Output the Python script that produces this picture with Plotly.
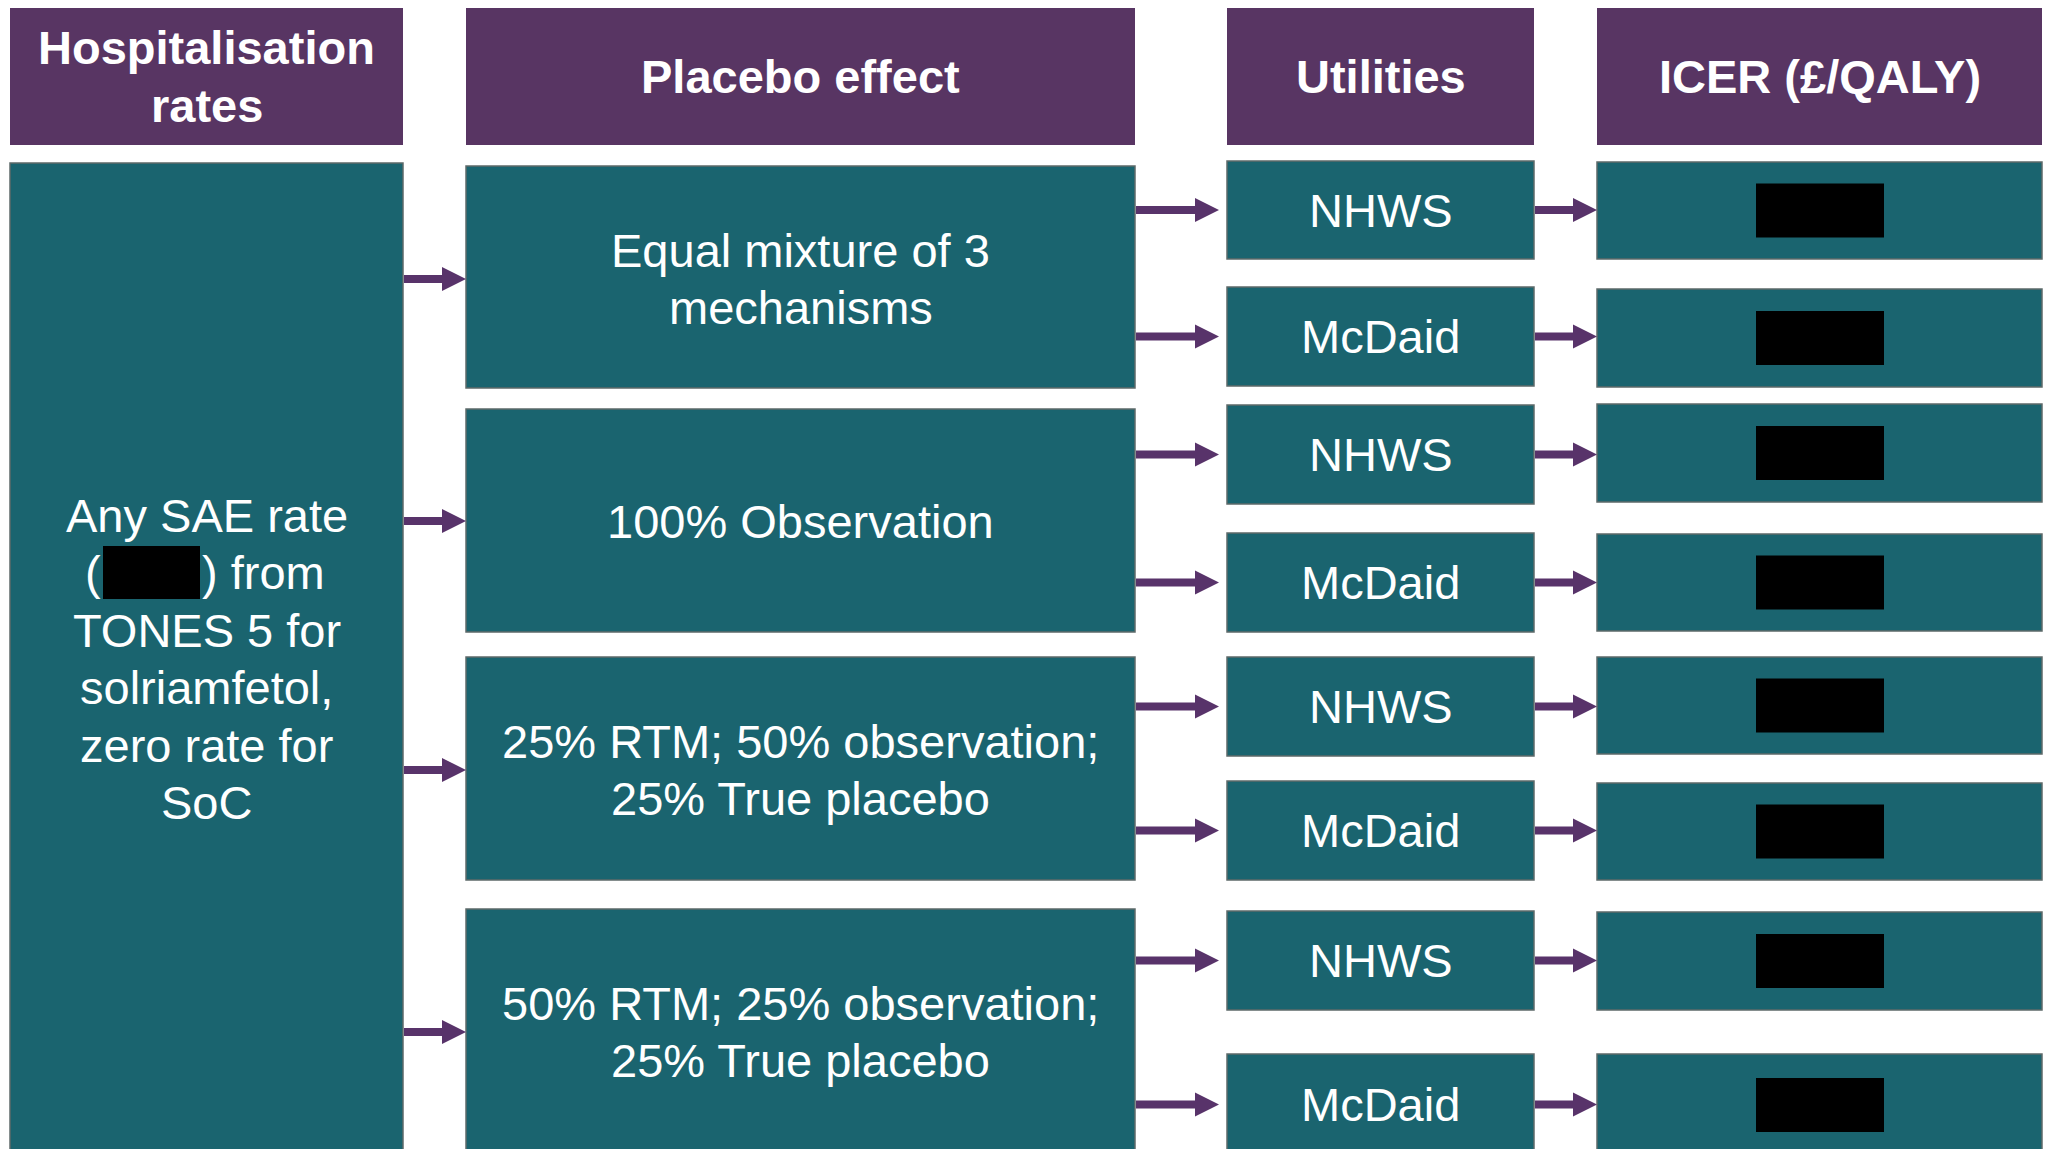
import plotly.graph_objects as go

# ---------------- content ----------------
header_labels = [["Hospitalisation", "rates"], ["Placebo effect"], ["Utilities"], ["ICER (£/QALY)"]]
hosp_lines = ["Any SAE rate", "(", ") from", "TONES 5 for", "solriamfetol,", "zero rate for", "SoC"]
placebo_labels = [
    ["Equal mixture of 3", "mechanisms"],
    ["100% Observation"],
    ["25% RTM; 50% observation;", "25% True placebo"],
    ["50% RTM; 25% observation;", "25% True placebo"],
]
utility_labels = ["NHWS", "McDaid", "NHWS", "McDaid", "NHWS", "McDaid", "NHWS", "McDaid"]
icer_values = ["", "", "", "", "", "", "", ""]  # redacted

# ---------------- geometry (pixels) ----------------
W, H = 2051, 1149
PURPLE = "#583563"
ARROW = "#58336A"
TEAL = "#1A646F"
EDGE = "#5d6a6a"
FONT = "Arial, Liberation Sans, sans-serif"
FS = 47
LH = 57.5

header_x = [(10, 403), (466, 1135), (1227, 1534), (1597, 2042)]
header_y = (8, 145)

left_box = (10, 403, 163, 1155)
plac_x = (466, 1135)
plac_y = [(166, 388), (409, 632), (657, 880), (909, 1155)]
util_x = (1227, 1534)
util_y = [(161, 259), (287, 386), (405, 504), (533, 632), (657, 756), (781, 880), (911, 1010), (1054, 1156)]
icer_x = (1597, 2042)
icer_y = [(162, 259), (289, 387), (404, 502), (534, 631), (657, 754), (783, 880), (912, 1010), (1054, 1156)]
black_x = (1756, 1884)
black_h = 54

fig = go.Figure()
shapes = []
annotations = []


def rect(x0, x1, y0, y1, fill, line=None):
    shapes.append(dict(type="rect", xref="x", yref="y", x0=x0, x1=x1, y0=y0, y1=y1,
                       fillcolor=fill,
                       line=dict(color=line if line else fill, width=1.5 if line else 0),
                       layer="above"))


def text(x, y, s, bold=False, xanchor="center"):
    annotations.append(dict(x=x, y=y, xref="x", yref="y", text=("<b>%s</b>" % s) if bold else s,
                            showarrow=False, xanchor=xanchor, yanchor="middle",
                            font=dict(family=FONT, size=FS, color="white")))


def lines(xc, yc, items, bold=False):
    n = len(items)
    for i, s in enumerate(items):
        text(xc, yc + (i - (n - 1) / 2) * LH, s, bold=bold)


def arrow(x0, x1, y):
    hl, sh, hh = 24, 4, 12
    xh = x1 - hl
    path = (f"M {x0},{y - sh} L {xh},{y - sh} L {xh},{y - hh} L {x1},{y} "
            f"L {xh},{y + hh} L {xh},{y + sh} L {x0},{y + sh} Z")
    shapes.append(dict(type="path", xref="x", yref="y", path=path,
                       fillcolor=ARROW, line=dict(width=0), layer="above"))


# headers
for (x0, x1), lab in zip(header_x, header_labels):
    rect(x0, x1, header_y[0], header_y[1], PURPLE)
    lines((x0 + x1) / 2, (header_y[0] + header_y[1]) / 2, lab, bold=True)

# left box
rect(left_box[0], left_box[1], left_box[2], left_box[3], TEAL, EDGE)
lx = (left_box[0] + left_box[1]) / 2
ly0 = 515
text(lx, ly0, hosp_lines[0])
text(103, ly0 + LH, hosp_lines[1], xanchor="right")
text(200, ly0 + LH, hosp_lines[2], xanchor="left")
rect(103, 200, 546, 599, "black")
for i, s in enumerate(hosp_lines[3:]):
    text(lx, ly0 + (i + 2) * LH, s)

# placebo boxes
plac_text_y = [279, 521, 770, 1032]
for (y0, y1), lab, ty in zip(plac_y, placebo_labels, plac_text_y):
    rect(plac_x[0], plac_x[1], y0, y1, TEAL, EDGE)
    lines((plac_x[0] + plac_x[1]) / 2, ty, lab)
    arrow(left_box[1] + 1, plac_x[0], ty if len(lab) else (y0 + y1) / 2)

# utility and ICER boxes
for i, ((uy0, uy1), lab) in enumerate(zip(util_y, utility_labels)):
    rect(util_x[0], util_x[1], uy0, uy1, TEAL, EDGE)
    uc = (uy0 + min(uy1, 1155)) / 2
    text((util_x[0] + util_x[1]) / 2, uc, lab)
    arrow(plac_x[1] + 1, util_x[0] - 8, uc)
    iy0, iy1 = icer_y[i]
    rect(icer_x[0], icer_x[1], iy0, iy1, TEAL, EDGE)
    ic = (iy0 + iy1) / 2
    rect(black_x[0], black_x[1], ic - black_h / 2, ic + black_h / 2, "black")
    if icer_values[i]:
        text((icer_x[0] + icer_x[1]) / 2, ic, icer_values[i])
    arrow(util_x[1] + 1, icer_x[0], uc)

fig.update_layout(
    width=W, height=H, margin=dict(l=0, r=0, t=0, b=0, pad=0),
    paper_bgcolor="white", plot_bgcolor="white", showlegend=False,
    xaxis=dict(range=[0, W], visible=False, fixedrange=True),
    yaxis=dict(range=[H, 0], visible=False, fixedrange=True),
    shapes=shapes, annotations=annotations,
)

fig.write_html("out.html", config={"displayModeBar": False},
               post_script="document.body.style.margin='0';document.body.style.overflow='hidden';")
